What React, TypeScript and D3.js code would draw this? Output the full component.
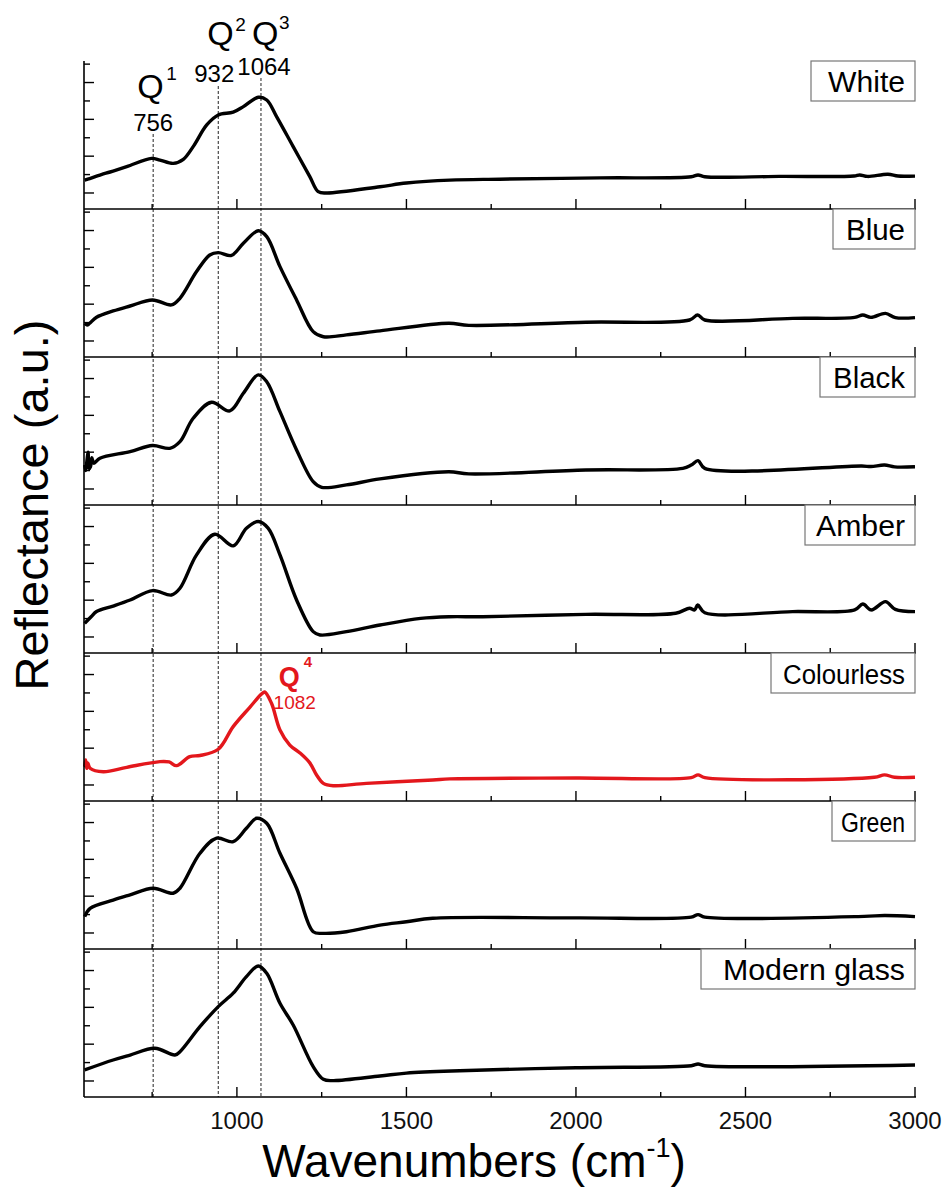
import React, { useEffect, useRef } from 'react';
import * as d3 from 'd3';

const W = 947;
const H = 1187;
const LEFT = 84;
const RIGHT = 915;
const TOP = 61;
const PANEL_H = 148;
const FONT = '"Liberation Sans", Arial, Helvetica, sans-serif';
const RED = '#e3171c';

const sampleNames = ['White', 'Blue', 'Black', 'Amber', 'Colourless', 'Green', 'Modern glass'];
const sampleColors = ['#000', '#000', '#000', '#000', RED, '#000', '#000'];

const majorTicks = [1000, 1500, 2000, 2500, 3000];
const minorTicks = [750, 1250, 1750, 2250, 2750];
const yTicks = [0, 1, 2, 3, 4, 5, 6, 7];

// reflectance (a.u., offset per panel) vs wavenumber
const white: [number, number][] = [[551,0.7],[560,0.75],[600,1.0],[626,1.14],[675,1.43],[748,1.88],[773,1.79],[812,1.61],[842,1.83],[871,2.52],[911,3.7],[945,4.24],[989,4.39],[1019,4.69],[1063,5.2],[1088,5.05],[1117,4.15],[1166,2.52],[1215,0.89],[1240,0.07],[1265,0],[1422,0.34],[1500,0.54],[1628,0.7],[1775,0.75],[2070,0.82],[2340,0.88],[2360,0.98],[2380,0.88],[2600,0.9],[2820,0.92],[2837,0.98],[2860,0.9],[2920,1.02],[2950,0.92],[3000,0.92]];
const blue: [number, number][] = [[551,0.96],[558,0.87],[565,0.95],[586,1.29],[635,1.63],[685,1.9],[751,2.23],[807,1.96],[832,2.32],[881,3.77],[920,4.67],[945,4.8],[984,4.65],[1019,5.31],[1063,5.99],[1088,5.67],[1127,4.04],[1176,2.23],[1225,0.51],[1255,0.23],[1323,0.33],[1422,0.55],[1625,0.96],[1684,0.85],[2029,1.02],[2335,1.14],[2359,1.41],[2380,1.14],[2639,1.23],[2822,1.28],[2846,1.41],[2870,1.28],[2913,1.5],[2942,1.27],[3000,1.27]];
const black: [number, number][] = [[551,1.3],[554,1.0],[558,1.6],[561,2.0],[564,1.1],[568,1.2],[572,1.7],[578,1.4],[596,1.67],[685,2.03],[751,2.36],[802,2.21],[832,2.57],[871,3.84],[925,4.71],[979,4.24],[1019,5.2],[1063,6.2],[1088,5.83],[1127,4.2],[1176,2.12],[1225,0.4],[1250,0.09],[1323,0.22],[1422,0.55],[1625,0.94],[1684,0.82],[2029,1.03],[2315,1.12],[2340,1.3],[2360,1.54],[2380,1.12],[2843,1.25],[2870,1.22],[2910,1.3],[2940,1.2],[3000,1.21]];
const amber: [number, number][] = [[551,0.74],[570,1.1],[586,1.38],[635,1.68],[685,2.01],[751,2.52],[807,2.28],[832,2.65],[881,4.46],[935,5.58],[989,4.95],[1028,5.91],[1063,6.27],[1092,5.91],[1127,4.46],[1176,2.01],[1225,0.29],[1245,0.11],[1323,0.29],[1422,0.65],[1542,1.01],[1625,1.1],[1725,1.1],[2029,1.23],[2294,1.29],[2335,1.56],[2350,1.47],[2359,1.74],[2380,1.32],[2639,1.38],[2822,1.47],[2846,1.79],[2871,1.47],[2913,1.92],[2942,1.5],[3000,1.38]];
const colourless: [number, number][] = [[551,1.0],[554,1.36],[557,0.9],[560,1.2],[567,0.91],[606,0.72],[675,0.96],[773,1.27],[800,1.25],[822,1.05],[861,1.54],[891,1.6],[945,1.94],[989,3.17],[1038,4.22],[1073,4.95],[1082,5.05],[1102,4.44],[1127,2.99],[1156,2.17],[1186,1.74],[1215,1.2],[1235,0.54],[1255,0.09],[1284,-0.04],[1382,0.09],[1578,0.27],[1628,0.33],[2000,0.38],[2340,0.4],[2360,0.55],[2380,0.4],[2880,0.42],[2910,0.55],[2940,0.42],[3000,0.42]];
const green: [number, number][] = [[551,0.89],[567,1.34],[635,1.79],[685,2.07],[753,2.43],[812,2.16],[832,2.43],[891,4.33],[940,5.15],[989,4.96],[1028,5.69],[1058,6.23],[1088,5.96],[1127,4.33],[1176,2.43],[1225,0.07],[1255,-0.02],[1323,0.07],[1422,0.43],[1500,0.61],[1578,0.8],[2000,0.82],[2340,0.86],[2360,1.0],[2380,0.86],[2850,0.9],[2910,0.95],[3000,0.89]];
const modern: [number, number][] = [[551,0.6],[635,1.14],[685,1.41],[758,1.78],[817,1.41],[832,1.59],[891,2.95],[945,4.04],[989,4.77],[1028,5.67],[1063,6.25],[1088,5.85],[1127,4.22],[1166,3.04],[1225,0.78],[1255,0.09],[1284,0.02],[1422,0.27],[1500,0.43],[1657,0.56],[2000,0.72],[2340,0.83],[2360,0.92],[2380,0.83],[3000,0.87]];

const spectra = [white, blue, black, amber, colourless, green, modern];

// Q-band marker lines (drawn position) and their labels
const markerPos = [753, 945, 1071];
const markerLabels = ['756', '932', '1064'];
const markerSups = ['1', '2', '3'];
const q4Pos = 1082;
const q4Label = '1082';

// label box layout (style): font size, text width and box left edge, per panel
const LABEL_FONT = [30, 30, 30, 30, 27, 27, 30];
const LABEL_TEXT_W = [77, 59, 72, 89, 122, 64, 182];
const LABEL_BOX_L = [811, 833, 820, 805, 771, 832, 701];

export default function App() {
  const ref = useRef<SVGSVGElement>(null);

  useEffect(() => {
    const svg = d3.select(ref.current);
    svg.selectAll('*').remove();

    const x = d3.scaleLinear().domain([549, 3000]).range([LEFT, RIGHT]);
    const n = sampleNames.length;
    const bottomY = TOP + n * PANEL_H;

    const g = svg.append('g');

    const markerTops = [134, 86, 78];
    markerPos.forEach((p, i) => {
      g.append('line')
        .attr('x1', x(p)).attr('x2', x(p))
        .attr('y1', markerTops[i]).attr('y2', bottomY)
        .attr('stroke', '#222').attr('stroke-width', 1)
        .attr('stroke-dasharray', '3,2');
    });

    spectra.forEach((data, i) => {
      const top = TOP + i * PANEL_H;
      const bottom = top + PANEL_H;
      const y = d3.scaleLinear().domain([-0.87, 7.17]).range([bottom, top]);
      const pg = g.append('g');

      pg.append('line').attr('x1', LEFT).attr('x2', RIGHT + 1)
        .attr('y1', bottom).attr('y2', bottom)
        .attr('stroke', '#000').attr('stroke-width', 1.6);
      majorTicks.forEach((t) => {
        pg.append('line').attr('x1', x(t)).attr('x2', x(t))
          .attr('y1', bottom).attr('y2', bottom - 10)
          .attr('stroke', '#000').attr('stroke-width', 1.4);
      });
      minorTicks.forEach((t) => {
        pg.append('line').attr('x1', x(t)).attr('x2', x(t))
          .attr('y1', bottom).attr('y2', bottom - 5)
          .attr('stroke', '#000').attr('stroke-width', 1.4);
      });
      yTicks.forEach((t) => {
        pg.append('line').attr('x1', LEFT).attr('x2', LEFT + (t % 2 === 0 ? 10 : 6))
          .attr('y1', y(t)).attr('y2', y(t))
          .attr('stroke', '#000').attr('stroke-width', 1.4);
      });

      const line = d3.line<[number, number]>()
        .x((d) => x(d[0]))
        .y((d) => y(d[1]))
        .curve(d3.curveCatmullRom.alpha(0.5));
      pg.append('path').attr('d', line(data) as string)
        .attr('fill', 'none').attr('stroke', sampleColors[i])
        .attr('stroke-width', 3.4).attr('stroke-linejoin', 'round');

      const boxL = LABEL_BOX_L[i];
      pg.append('rect')
        .attr('x', boxL).attr('y', top)
        .attr('width', RIGHT - boxL).attr('height', 40)
        .attr('fill', '#fff').attr('stroke', '#777').attr('stroke-width', 1.2);
      const tw = LABEL_TEXT_W[i];
      pg.append('text')
        .attr('x', RIGHT - 10 - tw).attr('y', top + 31)
        .attr('font-family', FONT).attr('font-size', LABEL_FONT[i])
        .attr('textLength', tw).attr('lengthAdjust', 'spacingAndGlyphs')
        .attr('fill', '#000')
        .text(sampleNames[i]);
    });

    g.append('line').attr('x1', LEFT).attr('x2', LEFT)
      .attr('y1', TOP).attr('y2', bottomY)
      .attr('stroke', '#000').attr('stroke-width', 1.6);

    majorTicks.forEach((t) => {
      g.append('text').attr('x', x(t)).attr('y', bottomY + 32)
        .attr('text-anchor', 'middle').attr('font-family', FONT)
        .attr('font-size', 24).attr('fill', '#111').text(String(t));
    });

    const qData = [
      { qx: -16, qy: 98, sx: 13, sy: 80, lx: 0, ly: 131 },
      { qx: -11, qy: 45, sx: 17, sy: 31, lx: -4, ly: 82 },
      { qx: -9, qy: 45, sx: 18, sy: 29, lx: 3, ly: 75 },
    ];
    markerPos.forEach((p, i) => {
      const d = qData[i];
      const cx = x(p);
      g.append('text').attr('x', cx + d.qx).attr('y', d.qy)
        .attr('font-family', FONT).attr('font-size', 34).attr('fill', '#000').text('Q');
      g.append('text').attr('x', cx + d.sx).attr('y', d.sy)
        .attr('font-family', FONT).attr('font-size', 19).attr('fill', '#000').text(markerSups[i]);
      g.append('text').attr('x', cx + d.lx).attr('y', d.ly).attr('text-anchor', 'middle')
        .attr('font-family', FONT).attr('font-size', 24).attr('fill', '#000').text(markerLabels[i]);
    });

    const q4x = x(q4Pos);
    g.append('text').attr('x', q4x + 14).attr('y', 686)
      .attr('font-family', FONT).attr('font-size', 27).attr('font-weight', 'bold')
      .attr('fill', RED).text('Q');
    g.append('text').attr('x', q4x + 39).attr('y', 667)
      .attr('font-family', FONT).attr('font-size', 15).attr('font-weight', 'bold')
      .attr('fill', RED).text('4');
    g.append('text').attr('x', q4x + 30).attr('y', 709).attr('text-anchor', 'middle')
      .attr('font-family', FONT).attr('font-size', 19)
      .attr('fill', RED).text(q4Label);

    const xt = g.append('text').attr('x', 474).attr('y', 1177).attr('text-anchor', 'middle')
      .attr('font-family', FONT).attr('font-size', 46).attr('fill', '#000');
    xt.append('tspan').text('Wavenumbers (cm');
    xt.append('tspan').attr('font-size', 27).attr('dy', -20).text('-1');
    xt.append('tspan').attr('dy', 20).text(')');

    g.append('text')
      .attr('transform', `translate(48,505) rotate(-90)`)
      .attr('text-anchor', 'middle')
      .attr('font-family', FONT).attr('font-size', 47).attr('fill', '#000')
      .text('Reflectance (a.u.)');
  }, []);

  return (
    <svg
      ref={ref}
      width={W}
      height={H}
      style={{ position: 'absolute', left: 0, top: 0, background: '#fff' }}
    />
  );
}
